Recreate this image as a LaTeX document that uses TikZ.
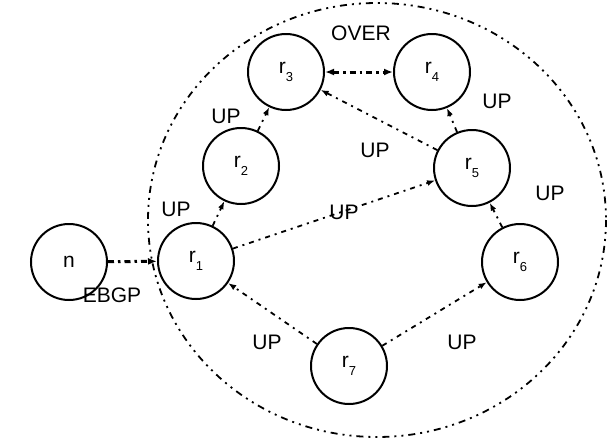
\documentclass[tikz,border=0pt]{standalone}
\usepackage{fontspec}
\setmainfont{Liberation Sans}
\usetikzlibrary{arrows.meta}
\begin{document}
\begin{tikzpicture}[x=1pt,y=-1pt,
  rnode/.style={circle,draw,line width=2pt,minimum size=76pt,inner sep=0pt,font=\fontsize{21}{21}\selectfont},
  conn/.style={line width=1.8pt,dash pattern=on 5pt off 5pt on 2pt off 5pt,-{Latex[length=8pt,width=6pt]}},
  thickconn/.style={line width=3pt,dash pattern=on 6pt off 4pt on 2.5pt off 4pt},
  lbl/.style={font=\fontsize{21}{21}\selectfont,inner sep=0pt}]
\useasboundingbox (0,0) rectangle (615,445);
\draw[line width=1.8pt,dash pattern=on 7pt off 5pt on 2pt off 5pt on 2pt off 5pt] (377,220) ellipse [x radius=229,y radius=217];
\newcommand{\rlab}[1]{r\raisebox{-8pt}{\fontsize{13}{13}\selectfont #1}}
\node[rnode] (n) at (69,262) {n};
\node[rnode] (r1) at (196,261) {\rlab{1}};
\node[rnode] (r2) at (241,166) {\rlab{2}};
\node[rnode] (r3) at (286,72) {\rlab{3}};
\node[rnode] (r4) at (432,72) {\rlab{4}};
\node[rnode] (r5) at (472,168) {\rlab{5}};
\node[rnode] (r6) at (520,262) {\rlab{6}};
\node[rnode] (r7) at (349,366) {\rlab{7}};
\draw[thickconn,-{Latex[length=9pt,width=7pt]}] (n) -- (r1);
\draw[thickconn,{Latex[length=9pt,width=7pt]}-{Latex[length=9pt,width=7pt]}] (r3) -- (r4);
\draw[conn] (r1) -- (r2);
\draw[conn] (r2) -- (r3);
\draw[conn] (r1) -- (r5);
\draw[conn] (r5) -- (r3);
\draw[conn] (r5) -- (r4);
\draw[conn] (r6) -- (r5);
\draw[conn] (r7) -- (r1);
\draw[conn] (r7) -- (r6);
\node[lbl] (lover) at (361,33) {OVER};
\node[lbl] (l12) at (176,209) {UP};
\node[lbl] (l23) at (226,116) {UP};
\node[lbl] (l15) at (344,212) {UP};
\node[lbl] (l53) at (375,150) {UP};
\node[lbl] (l54) at (497,101) {UP};
\node[lbl] (l65) at (550,193) {UP};
\node[lbl] (l71) at (267,342) {UP};
\node[lbl] (l76) at (462,342) {UP};
\node[lbl] (lebgp) at (112,295) {EBGP};
\end{tikzpicture}
\end{document}
